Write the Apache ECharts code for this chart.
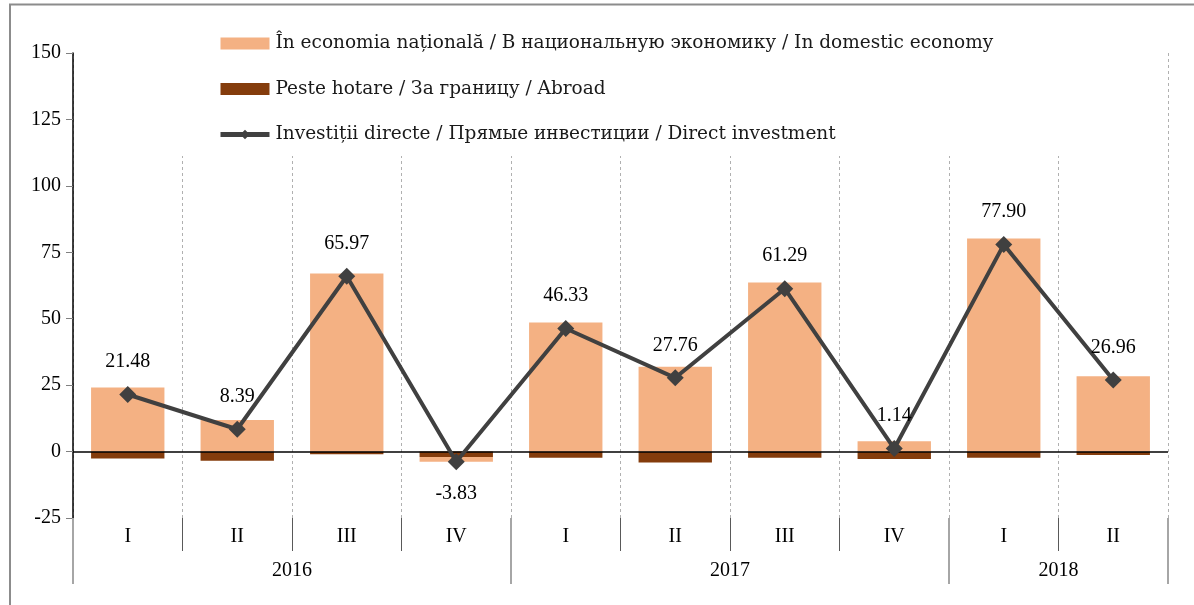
<!DOCTYPE html>
<html>
<head>
<meta charset="utf-8">
<script src="https://cdn.jsdelivr.net/npm/echarts@6/dist/echarts.min.js"></script>
<style>
  html, body { margin: 0; padding: 0; background: #fff; }
  #chart { width: 1194px; height: 605px; }
</style>
</head>
<body>
<div id="chart"></div>
<script>
// date
var quarters = ['I', 'II', 'III', 'IV', 'I', 'II', 'III', 'IV', 'I', 'II'];
var years = ['2016', '2017', '2018'];
var yearBounds = [0, 4, 8, 10];      // limitele anilor pe axa (in trimestre)
var yearCenters = [2, 6, 9];
var domestic = [24.1, 11.9, 67.0, -1.8, 48.6, 31.9, 63.6, 3.9, 80.2, 28.3];
var abroad = [-2.6, -3.5, -1.0, -2.0, -2.3, -4.1, -2.3, -2.8, -2.3, -1.3];
var direct = [21.48, 8.39, 65.97, -3.83, 46.33, 27.76, 61.29, 1.14, 77.90, 26.96];

var names = [
    'În economia națională / В национальную экономику / In domestic economy',
    'Peste hotare / За границу / Abroad',
    'Investiții directe / Прямые инвестиции / Direct investment'
];

var FONT = 'Liberation Serif';

window.onload = function () {
    var myChart = echarts.init(document.getElementById('chart'));

    var lineData = direct.map(function (v) {
        return {
            value: v,
            label: { position: v < 0 ? 'bottom' : 'top' }
        };
    });

    var option = {
        animation: false,
        textStyle: { fontFamily: FONT, color: '#000' },
        grid: { left: 73, right: 26, top: 53, bottom: 87 },
        legend: {
            orient: 'vertical',
            left: 213,
            top: 29,
            itemWidth: 49,
            itemHeight: 12,
            itemGap: 26.5,
            textStyle: { fontFamily: 'DejaVu Serif', fontSize: 18.5, color: '#1a1a1a', padding: [0, 0, 0, 1] },
            data: [
                { name: names[0], icon: 'rect' },
                { name: names[1], icon: 'rect' },
                { name: names[2], itemStyle: { color: '#404040' }, lineStyle: { width: 5, color: '#404040' } }
            ]
        },
        graphic: [
            // fundal alb sub legenda
            { type: 'rect', z: 3, shape: { x: 76, y: 48, width: 1085, height: 108 },
              style: { fill: '#fff' } },
            // rama
            { type: 'polyline', z: 10, shape: { points: [[10, 605], [10, 4.5], [1194, 4.5]] },
              style: { stroke: '#8c8c8c', lineWidth: 2, fill: null } }
        ],
        xAxis: [
            {
                type: 'category',
                data: quarters,
                position: 'bottom',
                axisLine: { show: false, onZero: false },
                axisTick: { show: true, length: 33, lineStyle: { color: '#595959', width: 1 } },
                axisLabel: { fontSize: 20, color: '#000', margin: 9 },
                splitLine: { show: true, lineStyle: { color: '#b0b0b0', type: [3, 3], width: 1 } }
            },
            {
                type: 'value',
                min: 0,
                max: 10,
                position: 'bottom',
                axisLine: { show: false, onZero: false },
                splitLine: { show: false },
                axisTick: {
                    show: true, length: 66, customValues: yearBounds,
                    lineStyle: { color: '#a6a6a6', width: 2 }
                },
                axisLabel: {
                    fontSize: 20, color: '#000', margin: 43, customValues: yearCenters,
                    formatter: function (v) { return years[yearCenters.indexOf(v)]; }
                }
            }
        ],
        yAxis: {
            type: 'value',
            min: -25,
            max: 150,
            interval: 25,
            axisLine: { show: true, lineStyle: { color: '#000', width: 1.5 } },
            axisTick: { show: true, length: 7, lineStyle: { color: '#808080' } },
            axisLabel: { fontSize: 20, color: '#000', margin: 12 },
            splitLine: { show: false }
        },
        series: [
            {
                name: names[1],
                type: 'bar',
                stack: 'inv',
                xAxisIndex: 0,
                barWidth: '67%',
                itemStyle: { color: '#843C0C' },
                data: abroad,
                markLine: {
                    silent: true,
                    symbol: 'none',
                    label: { show: false },
                    lineStyle: { color: '#000', width: 1.5, type: 'solid' },
                    data: [{ yAxis: 0 }]
                }
            },
            {
                name: names[0],
                type: 'bar',
                stack: 'inv',
                xAxisIndex: 0,
                barWidth: '67%',
                itemStyle: { color: '#F4B183' },
                data: domestic
            },
            {
                name: names[2],
                type: 'line',
                xAxisIndex: 0,
                z: 5,
                symbol: 'diamond',
                symbolSize: 17,
                lineStyle: { color: '#404040', width: 4 },
                itemStyle: { color: '#404040' },
                label: {
                    show: true,
                    fontSize: 20,
                    color: '#000',
                    distance: 14,
                    formatter: function (p) { return p.value.toFixed(2); }
                },
                data: lineData
            }
        ]
    };

    myChart.setOption(option);
};
</script>
</body>
</html>
